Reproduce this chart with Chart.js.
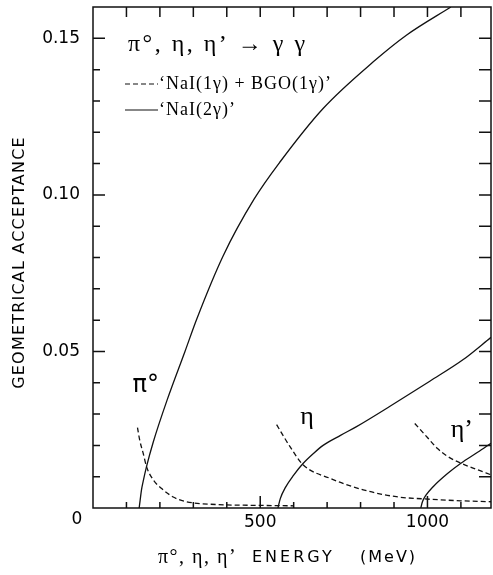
<!DOCTYPE html>
<html>
<head>
<meta charset="utf-8">
<script src="https://cdn.jsdelivr.net/npm/chart.js@4/dist/chart.umd.min.js"></script>
<style>
  html, body { margin: 0; padding: 0; background: #fff; }
  #c { display: block; }
</style>
</head>
<body>
<canvas id="c" width="493" height="575"></canvas>
<script>
// acceptance curves (energy in MeV)
const pi0SolidX = [138, 141, 145, 150, 160, 180, 222, 275, 310, 389, 482, 559, 688, 838, 937, 1070];
const pi0SolidY = [0, 0.0025, 0.0058, 0.0085, 0.0132, 0.021, 0.0346, 0.050, 0.0603, 0.0805, 0.0987, 0.1105, 0.1276, 0.1425, 0.151, 0.160];

const pi0DashX = [133, 140, 150, 160, 180, 210, 240, 280, 370, 450, 520, 600];
const pi0DashY = [0.0257, 0.0215, 0.0175, 0.0132, 0.009, 0.0058, 0.0035, 0.002, 0.0011, 0.0009, 0.0008, 0.0007];

const etaSolidX = [553, 560, 575, 600, 628, 660, 688, 740, 788, 888, 1007, 1107, 1190];
const etaSolidY = [0, 0.003, 0.0065, 0.0105, 0.0142, 0.0175, 0.020, 0.0232, 0.026, 0.0325, 0.0405, 0.0474, 0.0545];

const etaDashX = [549, 589, 628, 708, 808, 907, 1007, 1100, 1190];
const etaDashY = [0.0266, 0.0196, 0.0138, 0.0095, 0.0058, 0.0036, 0.0028, 0.0023, 0.002];

const etapSolidX = [980, 985, 995, 1017, 1060, 1100, 1150, 1190];
const etapSolidY = [0, 0.002, 0.004, 0.0068, 0.011, 0.0143, 0.0178, 0.0207];

const etapDashX = [962, 1000, 1030, 1060, 1100, 1150, 1190];
const etapDashY = [0.027, 0.0225, 0.019, 0.0165, 0.0143, 0.0122, 0.0106];

const energyTicks = [0, 100, 200, 300, 400, 500, 600, 700, 800, 900, 1000, 1100];
const xTickLabels = { 500: '500', 1000: '1000' };
const acceptTicks = [0, 0.01, 0.02, 0.03, 0.04, 0.05, 0.06, 0.07, 0.08, 0.09, 0.10, 0.11, 0.12, 0.13, 0.14, 0.15];
const yTickLabels = { 5: '0.05', 10: '0.10', 15: '0.15' };

const particleNames = ['π°', 'η', 'η’'];
const particleAtX   = [158, 640, 1103];
const particleAtY   = [0.039, 0.029, 0.0247];

const legendNames = ['‘NaI(1γ) + BGO(1γ)’', '‘NaI(2γ)’'];

const zip = (xs, ys) => xs.map((x, i) => ({ x, y: ys[i] }));

function curve(xs, ys, dashed) {
  return {
    data: zip(xs, ys),
    borderColor: '#111',
    borderWidth: 1.3,
    borderDash: dashed ? [5, 3] : [],
    pointRadius: 0,
    tension: 0.4,
    cubicInterpolationMode: 'monotone',
    fill: false,
  };
}

const FRAME = '#111';

// frame, inward ticks and all the free text
const decorations = {
  id: 'decorations',
  afterDraw(chart) {
    const { ctx, chartArea: a, scales } = chart;
    const xs = scales.x, ys = scales.y;
    ctx.save();
    ctx.strokeStyle = FRAME;
    ctx.lineWidth = 1.5;
    ctx.strokeRect(a.left, a.top, a.right - a.left, a.bottom - a.top);

    ctx.beginPath();
    energyTicks.forEach(v => {
      if (v <= 0) return;
      const px = xs.getPixelForValue(v);
      const len = v % 500 === 0 ? 12 : 6;
      ctx.moveTo(px, a.bottom); ctx.lineTo(px, a.bottom - len);
      ctx.moveTo(px, a.top);    ctx.lineTo(px, a.top + 10);
    });
    acceptTicks.forEach(v => {
      const k = Math.round(v * 100);
      if (k <= 0) return;
      const py = ys.getPixelForValue(v);
      const len = k % 5 === 0 ? 12 : 7;
      ctx.moveTo(a.left, py);  ctx.lineTo(a.left + len, py);
      ctx.moveTo(a.right, py); ctx.lineTo(a.right - 12, py);
    });
    ctx.stroke();

    ctx.fillStyle = '#000';
    ctx.textBaseline = 'middle';

    // shared origin label
    ctx.font = "17px 'DejaVu Sans'";
    ctx.textAlign = 'center';
    ctx.fillText('0', a.left - 16, a.bottom + 12);

    // reaction title
    ctx.textAlign = 'left';
    ctx.font = "24px 'Liberation Serif'";
    ctx.letterSpacing = '2.5px';
    ctx.fillText('π°, η, η’ → γ γ', a.left + 35, 45);

    // legend
    ctx.font = "18px 'Liberation Serif'";
    ctx.letterSpacing = '1px';
    ctx.lineWidth = 1.2;
    legendNames.forEach((name, i) => {
      const y = 84 + i * 26;
      ctx.setLineDash(i === 0 ? [5, 3] : []);
      ctx.beginPath();
      ctx.moveTo(a.left + 32, y); ctx.lineTo(a.left + 65, y);
      ctx.stroke();
      ctx.fillText(name, a.left + 66, y);
    });
    ctx.setLineDash([]);

    // particle labels next to their curves
    ctx.textAlign = 'center';
    ctx.letterSpacing = '0px';
    particleNames.forEach((name, i) => {
      ctx.font = i === 0 ? "24px 'DejaVu Sans'" : "26px 'Liberation Serif'";
      ctx.fillText(name, xs.getPixelForValue(particleAtX[i]), ys.getPixelForValue(particleAtY[i]));
    });

    // y axis title
    ctx.save();
    ctx.translate(20, (a.top + a.bottom) / 2 + 5);
    ctx.rotate(-Math.PI / 2);
    ctx.font = "16px 'DejaVu Sans'";
    ctx.letterSpacing = '1.2px';
    ctx.fillText('GEOMETRICAL ACCEPTANCE', 0, 0);
    ctx.restore();

    // x axis title
    ctx.textAlign = 'left';
    const ty = a.bottom + 50;
    ctx.font = "20px 'Liberation Serif'";
    ctx.letterSpacing = '1.5px';
    ctx.fillText('π°, η, η’', 158, ty);
    ctx.font = "16px 'DejaVu Sans'";
    ctx.letterSpacing = '3px';
    ctx.fillText('ENERGY', 252, ty);
    ctx.letterSpacing = '2px';
    ctx.fillText('(MeV)', 360, ty);
    ctx.restore();
  },
};

new Chart(document.getElementById('c'), {
  type: 'line',
  data: {
    datasets: [
      curve(pi0SolidX, pi0SolidY, false),
      curve(pi0DashX, pi0DashY, true),
      curve(etaSolidX, etaSolidY, false),
      curve(etaDashX, etaDashY, true),
      curve(etapSolidX, etapSolidY, false),
      curve(etapDashX, etapDashY, true),
    ],
  },
  options: {
    responsive: false,
    animation: false,
    layout: { padding: { top: 7, right: 2, left: 0, bottom: 0 } },
    plugins: { legend: { display: false }, tooltip: { enabled: false } },
    scales: {
      x: {
        type: 'linear',
        min: 0,
        max: 1190,
        grid: { display: false, drawTicks: false },
        border: { display: false },
        afterBuildTicks: s => { s.ticks = energyTicks.map(v => ({ value: v })); },
        ticks: {
          autoSkip: false,
          maxRotation: 0,
          padding: 4,
          color: '#000',
          font: { family: 'DejaVu Sans', size: 17 },
          callback: v => xTickLabels[Math.round(v)] || '',
        },
        afterFit: s => { s.height = 67; s.paddingLeft = 0; s.paddingRight = 0; },
      },
      y: {
        min: 0,
        max: 0.16,
        grid: { display: false, drawTicks: false },
        border: { display: false },
        afterBuildTicks: s => { s.ticks = acceptTicks.map(v => ({ value: v })); },
        ticks: {
          autoSkip: false,
          padding: 13,
          color: '#000',
          font: { family: 'DejaVu Sans', size: 17 },
          callback: v => yTickLabels[Math.round(v * 100)] || '',
        },
        afterFit: s => { s.width = 93; s.paddingTop = 0; s.paddingBottom = 0; },
      },
    },
  },
  plugins: [decorations],
});
</script>
</body>
</html>
